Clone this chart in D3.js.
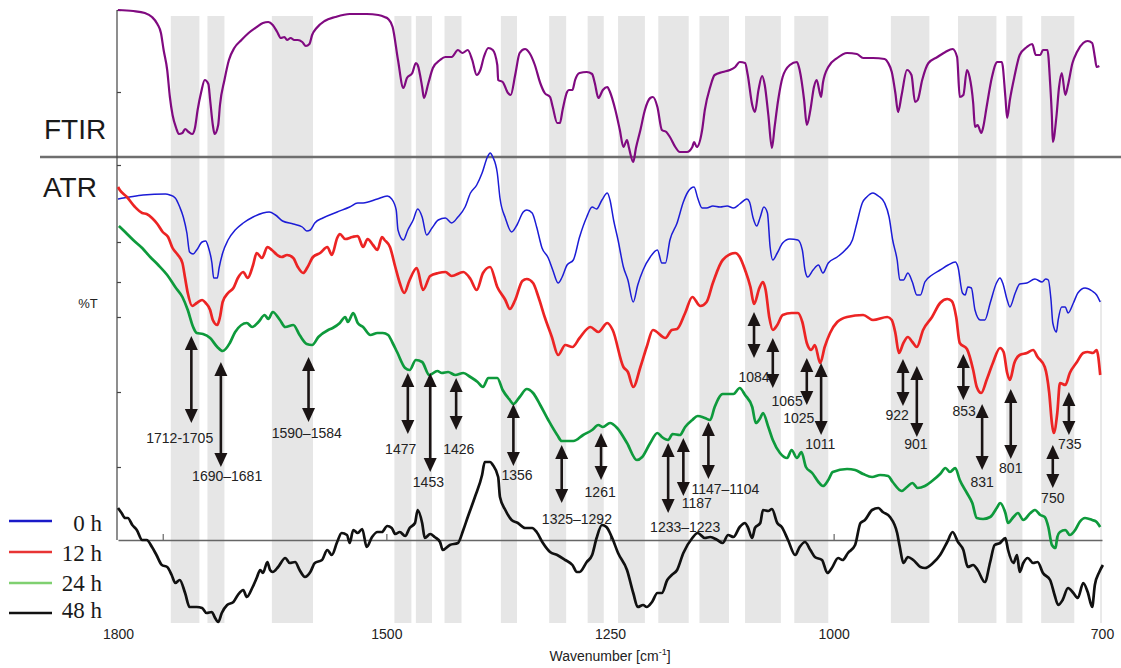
<!DOCTYPE html>
<html>
<head>
<meta charset="utf-8">
<script src="https://cdn.jsdelivr.net/npm/d3@7"></script>
<style>
  html, body { margin: 0; padding: 0; background: #fff; }
  svg { display: block; }
</style>
</head>
<body>
<svg id="chart" width="1121" height="668"></svg>
<script>
// ---- Spectra: [wavenumber (cm-1), %T] ----
const ftir = [[1800,82],[1783,81.5],[1770,80.5],[1762,78.5],[1756,75],[1752,70.5],[1749,62],[1745,52],[1742,38.5],[1739,29.5],[1735,23],[1732,20],[1728,20.5],[1725,22.5],[1721,21],[1717,20],[1714,23],[1711,32],[1707,41],[1703,47],[1699,45],[1697,37],[1694,24.5],[1692,20],[1688,24.5],[1686,34.5],[1681,47],[1676,57],[1670,63],[1662,67],[1654,70.5],[1645,73.5],[1638,75.5],[1632,76],[1627,74.5],[1622,71],[1618,68],[1614,68.5],[1611,67],[1607,68],[1603,67],[1599,67],[1594,66],[1590,64],[1586,65],[1583,69.5],[1578,73],[1569,76.5],[1557,78.5],[1541,80],[1522,80],[1509,79.5],[1502,78.5],[1498,77.5],[1493,73.5],[1487,57],[1481,43],[1477,48],[1471,50.5],[1467,55.5],[1465,54.5],[1460,43.5],[1458,38],[1453,45.5],[1448,53],[1440,57],[1434,58.5],[1427,58.5],[1420,62],[1415,60.5],[1409,62],[1404,57],[1399,49.5],[1395,52],[1391,58.5],[1386,63],[1381,62],[1376,54.5],[1375,47],[1370,46],[1364,40.5],[1361,39.5],[1356,49.5],[1351,60.5],[1345,62.5],[1340,60.5],[1334,54.5],[1328,45.5],[1323,40.5],[1317,38.5],[1314,33.5],[1309,25.5],[1306,25.5],[1303,32],[1298,41],[1296,42],[1292,42],[1289,47],[1284,50.5],[1276,51],[1270,50],[1267,45.5],[1263,38],[1258,42],[1253,43.5],[1250,41],[1244,32],[1239,22],[1235,13.5],[1231,17],[1229,13.5],[1224,6],[1221,13],[1216,22],[1211,32],[1205,38],[1202,38.5],[1197,33.5],[1192,22],[1187,21],[1183,18.5],[1177,13.5],[1172,11],[1164,11],[1158,13.5],[1156,16],[1153,13.5],[1147,22],[1144,32],[1138,43.5],[1133,49.5],[1124,51],[1116,52],[1110,53.5],[1105,56],[1099,55.5],[1096,49.5],[1091,34.5],[1088,31],[1084,42],[1080,49],[1077,44.5],[1073,29.5],[1069,13],[1066,23.5],[1062,37],[1057,48.5],[1049,54.5],[1041,56],[1038,52],[1033,37],[1030,24.5],[1026,32],[1022,43.5],[1019,47],[1014,38.5],[1012,45.5],[1006,53.5],[996,58],[985,60.5],[974,60],[967,58],[956,58],[943,57.5],[939,55.5],[935,51],[931,40.5],[928,31],[924,39.5],[918,52],[913,49.5],[909,36],[906,37],[901,47],[894,55.5],[884,58.5],[875,61],[867,62.5],[862,58.5],[859,38.5],[855,39.5],[851,52],[848,48.5],[844,35.5],[842,23.5],[839,24.5],[835,20.5],[833,23],[829,33.5],[823,48.5],[817,56],[812,56],[808,38.5],[806,28],[803,37],[798,48.5],[792,59.5],[784,63.5],[778,65],[774,59.5],[769,59.5],[766,62],[761,62],[758,45.5],[756,28.5],[755,16],[751,28.5],[748,43.5],[745,50.5],[741,39.5],[738,44.5],[733,55.5],[728,61],[721,65.5],[716,66.5],[711,65.5],[708,58.5],[706,53.5],[703,54]];

const atr0h = [[1800,68.6],[1787,69],[1772,69.4],[1747,69.6],[1742,69.4],[1736,68.8],[1731,67],[1727,65],[1723,61.8],[1720,58],[1716,57.6],[1712,58.4],[1706,60],[1702,60.2],[1699,59],[1695,55.8],[1693,52.8],[1689,52.8],[1687,54.8],[1683,57.8],[1677,60.4],[1669,62.4],[1660,63.8],[1649,65],[1638,65.8],[1631,66],[1624,65.4],[1616,64.2],[1604,63.6],[1594,63],[1589,62.2],[1585,62.4],[1580,63.8],[1571,64.8],[1555,66],[1541,67],[1532,67.8],[1526,67.8],[1510,68.6],[1499,69.2],[1494,68.6],[1489,66.4],[1487,62.4],[1481,60.4],[1476,62.4],[1470,64.4],[1465,66.6],[1460,65],[1455,61.4],[1449,62.8],[1442,64.4],[1434,64.8],[1427,63.8],[1420,65],[1412,67],[1406,69.8],[1399,71.4],[1393,73.8],[1387,77],[1384,77.8],[1381,77],[1376,73.8],[1373,68.8],[1367,64.8],[1360,62],[1354,63.4],[1347,66],[1343,66.4],[1337,65.8],[1332,63],[1326,58.8],[1319,56.8],[1314,54.4],[1308,51.8],[1304,52.8],[1298,55.4],[1291,56.4],[1284,61],[1276,65],[1270,67],[1265,66.6],[1259,68.4],[1253,69.8],[1250,68.4],[1246,64.4],[1241,60.4],[1235,55],[1230,52.4],[1224,48],[1219,51.4],[1213,54.4],[1205,57],[1197,58.4],[1192,55.8],[1188,55.8],[1183,60.4],[1175,63.8],[1168,68],[1163,70],[1156,71],[1152,68.8],[1147,66.8],[1142,66.8],[1135,67.2],[1127,67],[1119,67.2],[1112,66.8],[1105,67.6],[1097,68.6],[1094,68],[1090,64.8],[1086,63.2],[1082,65],[1078,67],[1074,65.8],[1071,59],[1068,56.4],[1063,57.8],[1057,59.8],[1049,60.6],[1040,60.4],[1035,58.4],[1032,54.4],[1029,53],[1023,54.4],[1017,55.4],[1012,53.8],[1006,55.8],[996,57],[987,58.4],[979,60.4],[974,63.8],[968,67.8],[963,69],[956,69.8],[950,69.2],[943,67.8],[938,65],[934,60.4],[929,56.4],[926,52.4],[922,52.4],[917,53.8],[912,52],[907,49.4],[903,49.4],[898,52],[890,53.4],[881,54.4],[872,55.4],[864,56],[861,55],[856,49.8],[853,49.4],[850,51],[846,50.8],[842,46.4],[836,44.4],[831,44.4],[825,47.8],[818,51.8],[814,52.8],[811,51.8],[806,48.4],[803,47],[797,49.8],[792,51.6],[784,51.8],[775,52.6],[767,52],[763,52.6],[760,52.4],[757,48.4],[755,43.8],[751,42],[749,44.4],[745,47],[741,47],[738,45.8],[732,47.8],[727,49.8],[719,50.8],[711,50.2],[706,49.4],[702,48]];

const atr12h = [[1800,71],[1798,70.4],[1790,69],[1781,67],[1773,65.8],[1768,65.6],[1762,64.8],[1756,63.6],[1750,62],[1744,61],[1739,58.8],[1733,57.4],[1728,55.8],[1725,52.8],[1722,49.8],[1717,47.2],[1712,47.8],[1706,48.4],[1702,47.8],[1697,46.4],[1694,44.4],[1689,43.4],[1686,45],[1683,48],[1677,49.8],[1671,50.8],[1666,52.8],[1660,54],[1655,52.8],[1649,55.4],[1645,57.8],[1639,56.8],[1633,59],[1628,58.4],[1622,57.4],[1617,57],[1611,57.4],[1604,56.8],[1599,55],[1593,53.8],[1588,55],[1582,57],[1574,57.8],[1566,59],[1561,57.4],[1555,60.8],[1552,61.6],[1546,60.6],[1538,61],[1532,61.2],[1526,59],[1521,60.6],[1515,59.4],[1510,58.4],[1505,61],[1502,60.4],[1496,59],[1490,55],[1485,51.8],[1480,49.8],[1474,52.4],[1466,54.8],[1459,50.4],[1451,53.2],[1442,53.8],[1434,54],[1427,53.2],[1414,54],[1406,52.6],[1399,50.4],[1392,53.8],[1384,55],[1376,51],[1367,48.4],[1362,46.6],[1356,48.4],[1348,52.2],[1343,52.6],[1336,51.8],[1330,49],[1323,45],[1315,41],[1308,37.4],[1300,39.4],[1292,39],[1284,40.8],[1272,43],[1263,42],[1253,43.8],[1247,42.4],[1235,35],[1230,34],[1224,31],[1216,35],[1209,39],[1202,42.4],[1188,40.8],[1181,42.4],[1175,42.6],[1166,45.8],[1158,49],[1149,47.2],[1142,48],[1135,51.8],[1124,56.4],[1110,57.8],[1105,57],[1099,54.4],[1093,51],[1089,47.6],[1083,50.8],[1079,52],[1076,50.4],[1072,45],[1068,42.4],[1063,43.4],[1057,45.4],[1047,45.8],[1040,45.8],[1035,44],[1030,39.8],[1025,38.4],[1021,39.4],[1015,35.8],[1010,39],[1004,41.8],[996,44],[985,45],[967,45.4],[956,44.4],[940,45],[935,44.4],[931,41.8],[927,37.8],[922,39.8],[917,41],[912,40],[907,39],[900,42.4],[890,45],[881,47.8],[873,48.6],[868,48.2],[863,45],[859,39.8],[851,38.6],[844,34.4],[840,31],[835,29.8],[829,32.4],[822,35.8],[814,38.8],[810,38],[806,33.8],[803,32.4],[798,35.8],[792,37.4],[784,37.8],[777,38.4],[772,37],[764,35],[759,29.8],[756,23.8],[754,21.8],[750,25.8],[747,31.8],[741,31.4],[736,33.8],[728,36],[721,37.8],[716,38],[710,37.8],[706,38.4],[702,33.4]];

const atr24h = [[1799,63.2],[1792,62],[1783,60.4],[1773,58.8],[1764,57],[1755,55.4],[1745,53.4],[1736,51],[1728,49],[1722,46.4],[1716,43],[1712,41.8],[1705,41.6],[1697,40.8],[1689,39],[1683,38.2],[1675,39.8],[1669,42],[1656,43.8],[1650,43],[1643,44],[1636,45.4],[1632,44.6],[1627,46],[1619,44.4],[1613,43],[1604,43.4],[1597,41.4],[1589,39.6],[1583,39.4],[1576,41],[1565,42.4],[1560,42.8],[1552,43.8],[1546,45],[1543,44],[1537,45.8],[1532,43.8],[1526,43],[1518,41.4],[1510,41.8],[1504,41.8],[1498,41.4],[1493,39.8],[1488,38],[1479,34.8],[1474,34.4],[1467,36.4],[1460,36],[1452,33.4],[1443,34.2],[1438,33.8],[1431,34],[1423,33.4],[1414,33.8],[1406,33],[1398,32],[1392,31],[1386,32.8],[1376,32.8],[1370,30.4],[1362,28.4],[1358,27.6],[1351,29],[1343,30.6],[1336,29.8],[1328,27.4],[1319,24.4],[1309,21.4],[1304,20.2],[1291,20.2],[1280,21.4],[1270,22.4],[1263,23.4],[1258,23],[1250,23.8],[1242,22.8],[1231,19.8],[1220,16.4],[1214,17],[1205,19.8],[1197,21.8],[1192,21],[1185,20.4],[1180,21.6],[1172,21.4],[1166,23],[1158,24.4],[1152,25.2],[1144,24.8],[1138,24.4],[1133,27],[1124,29.6],[1112,29.6],[1105,30.8],[1099,29.4],[1091,27],[1087,23.8],[1082,24.8],[1079,25.8],[1073,23],[1068,20.4],[1060,17.8],[1052,16.8],[1047,18.4],[1041,16.8],[1036,18],[1031,15],[1024,13.8],[1017,12],[1012,11.2],[1006,12.4],[1001,14],[985,14.6],[976,14.4],[967,13.6],[957,13],[948,13.4],[939,13.2],[934,12],[924,10.2],[918,11],[912,11.8],[906,10.8],[898,11.2],[890,12.2],[881,13.6],[875,14.8],[870,14],[864,14.8],[859,12.4],[851,9.8],[845,7.8],[840,4.8],[833,4.6],[825,5],[817,7],[814,7.8],[808,5.8],[805,3.8],[799,5],[794,5.8],[788,4.4],[780,5.8],[775,6.4],[769,5.4],[764,5],[760,3],[756,-0.6],[752,-1.2],[750,1],[747,2],[741,2.4],[736,1.4],[730,2.4],[725,4],[719,4.8],[711,4.4],[706,4],[702,3]];

const atr48h = [[1800,6.8],[1796,5.8],[1792,4.8],[1789,4.8],[1784,3.4],[1779,2.4],[1773,0.4],[1768,0.4],[1762,-1],[1757,-2.6],[1751,-4.6],[1745,-5],[1740,-6.6],[1736,-8.2],[1731,-7.6],[1725,-10.2],[1720,-13],[1712,-13],[1706,-13.2],[1701,-14.2],[1695,-14],[1692,-15],[1688,-16],[1684,-14.2],[1678,-12.6],[1671,-12],[1666,-10.6],[1660,-9.6],[1656,-11],[1650,-9.2],[1645,-7.2],[1641,-5.6],[1638,-6.2],[1633,-4],[1630,-5.6],[1627,-6],[1621,-5],[1613,-3.2],[1608,-4.2],[1602,-4],[1597,-5.6],[1591,-7],[1585,-6],[1580,-4.2],[1572,-3.6],[1566,-1.6],[1561,-2.6],[1555,0],[1550,1.8],[1544,1.4],[1541,-0.2],[1537,2.4],[1532,1.8],[1527,2.6],[1522,-1],[1516,1],[1510,2],[1505,2],[1499,3.2],[1494,2.8],[1490,1.6],[1485,2],[1479,1.2],[1474,2.8],[1468,3.8],[1465,6.4],[1460,3.8],[1457,0.8],[1451,1.6],[1446,1],[1440,0],[1437,-1.6],[1429,-0.6],[1420,-0.2],[1414,2.4],[1409,5],[1401,9],[1393,13.4],[1390,16],[1384,16],[1381,15.4],[1375,13],[1373,9],[1367,6.4],[1360,4.4],[1353,3.8],[1345,2.8],[1337,2.8],[1332,2],[1325,-0.2],[1317,-2],[1309,-2.6],[1300,-3.6],[1292,-4.6],[1287,-6],[1284,-6],[1276,-4],[1270,-2.6],[1265,0.8],[1259,3.4],[1254,3],[1248,1],[1241,-2.2],[1231,-5.6],[1224,-10.2],[1219,-13],[1213,-12.6],[1209,-13],[1203,-12],[1197,-10.2],[1192,-10.2],[1186,-7.6],[1181,-6.6],[1175,-5.6],[1168,-2.2],[1158,0.8],[1152,1.8],[1144,0.8],[1138,1],[1130,0.4],[1124,-0.2],[1118,1.4],[1112,1],[1105,3],[1099,3.8],[1096,3],[1091,0.8],[1088,2.8],[1082,3.8],[1079,6.4],[1073,6.2],[1069,6.6],[1063,3.8],[1058,3],[1051,0.4],[1043,-2.6],[1038,-1],[1032,0],[1026,-1.6],[1021,-3],[1013,-3.6],[1007,-6.2],[1002,-5.2],[995,-3.2],[990,-3.6],[984,-2.2],[976,-0.6],[970,3.8],[965,4.4],[957,6.4],[950,6.8],[945,6],[937,5],[929,1.8],[926,-1],[922,-4.2],[917,-3],[911,-3.6],[903,-5],[898,-5.2],[889,-4.2],[881,-2.6],[873,0],[867,2],[861,0],[855,-1.6],[850,-5],[844,-4.6],[839,-5.6],[831,-8],[825,-4],[820,-0.6],[814,-0.2],[808,0.8],[805,-1.6],[799,-4.2],[795,-2.6],[792,-6],[788,-4.2],[783,-3.2],[777,-4.2],[772,-4],[766,-6.2],[758,-7.6],[753,-10.6],[749,-12.6],[744,-11.6],[738,-9.2],[732,-10.2],[727,-11.2],[721,-8.2],[716,-10],[711,-13],[708,-8.6],[703,-6],[699,-4.6]];

// Highlighted absorption regions [from, to] in cm-1
const bands = [[1741,1709],[1700,1681],[1628,1582],[1491,1472],[1467,1449],[1435,1416],[1372,1354],[1318,1299],[1275,1257],[1241,1211],[1196,1162],[1150,1117],[1099,1059],[1044,1006],[936,893],[861,818],[807,789],[768,731]];

// Band assignments: arrow at w spanning top..bottom (%T), label at (lw, ly)
const peaks = [
  {label:"1712-1705", w:1718, top:41.2, bottom:23.8, lw:1731, ly:19.8},
  {label:"1690\u20131681", w:1685, top:36, bottom:15, lw:1678, ly:12.2},
  {label:"1590\u20131584", w:1587, top:37, bottom:24, lw:1589, ly:20.8},
  {label:"1477", w:1476, top:33.8, bottom:21.6, lw:1484, ly:17.6},
  {label:"1453", w:1451, top:33.8, bottom:14, lw:1453, ly:11},
  {label:"1426", w:1422, top:32.8, bottom:22.4, lw:1419, ly:17.6},
  {label:"1356", w:1358, top:27.6, bottom:15.2, lw:1354, ly:12.4},
  {label:"1325\u20131292", w:1304, top:19.4, bottom:7.8, lw:1287, ly:3.6},
  {label:"1261", w:1260, top:21.8, bottom:12.4, lw:1261, ly:9},
  {label:"1233\u20131223", w:1185, top:19.8, bottom:5.8, lw:1166, ly:2},
  {label:"1187", w:1168, top:20.8, bottom:9.2, lw:1153, ly:6.8},
  {label:"1147\u20131104", w:1140, top:24, bottom:12.6, lw:1121, ly:9.6},
  {label:"1084", w:1089, top:46, bottom:36.8, lw:1089, ly:32},
  {label:"1065", w:1068, top:40.8, bottom:30.8, lw:1052, ly:27.2},
  {label:"1025", w:1030, top:36.8, bottom:27.4, lw:1039, ly:23.8},
  {label:"1011", w:1014, top:35.8, bottom:21.4, lw:1015, ly:18.6},
  {label:"922", w:922.5, top:36.6, bottom:27.2, lw:929, ly:24.4},
  {label:"901", w:907, top:35.2, bottom:21, lw:908, ly:18.6},
  {label:"853", w:855, top:37.6, bottom:28.4, lw:854, ly:25.2},
  {label:"831", w:834, top:27.6, bottom:14.4, lw:834, ly:11},
  {label:"801", w:802, top:30.6, bottom:16.6, lw:802, ly:13.8},
  {label:"750", w:755, top:19.4, bottom:10.8, lw:755, ly:7.8},
  {label:"735", w:737, top:30, bottom:21.4, lw:736, ly:18.6}
];

const xTickLabels = [1800, 1500, 1250, 1000, 700];
const xTickMarks = [1750, 1500, 1250, 1000, 750];
const ftirTicks = [41, 82];
const atrTicks = [15, 30, 45, 52, 60, 75.4];
const legendLabels = ["0 h", "12 h", "24 h", "48 h"];
const legendColors = ["#1a1ac8", "#e83434", "#7fd070", "#111111"];

// ---- Layout ----
const layout = {
  xLeft: 118, xRight: 1102, axisX: 117, axisTop: 10, axisBase: 540,
  splitY: 157, splitX0: 40, bandTop: 16, bandBottom: 623, labelY: 626
};
const font = "'Liberation Sans', Arial, sans-serif";

const svg = d3.select("#chart");
const x = d3.scaleLinear().domain([1800, 700]).range([layout.xLeft, layout.xRight]);
const yF = d3.scaleLinear().domain([0, 100]).range([174, -26]);  // FTIR %T
const yA = d3.scaleLinear().domain([0, 100]).range([542, 42]);   // ATR %T

// shaded regions
svg.append("g").selectAll("rect").data(bands).join("rect")
  .attr("x", d => x(d[0]))
  .attr("width", d => x(d[1]) - x(d[0]))
  .attr("y", layout.bandTop)
  .attr("height", layout.bandBottom - layout.bandTop)
  .attr("fill", "#e6e6e6");

// right frame edge
svg.append("line")
  .attr("x1", layout.xRight - 1).attr("x2", layout.xRight - 1)
  .attr("y1", 300).attr("y2", layout.bandBottom)
  .attr("stroke", "#d4d4d4").attr("stroke-width", 1);

// panel divider
svg.append("line")
  .attr("x1", layout.splitX0).attr("x2", 1121)
  .attr("y1", layout.splitY).attr("y2", layout.splitY)
  .attr("stroke", "#6f6f6f").attr("stroke-width", 2.6);

// left axis
svg.append("line")
  .attr("x1", layout.axisX).attr("x2", layout.axisX)
  .attr("y1", layout.axisTop).attr("y2", layout.axisBase)
  .attr("stroke", "#444").attr("stroke-width", 1.2);

function yTicks(scale, values) {
  const g = svg.append("g").attr("transform", `translate(${layout.axisX},0)`)
    .call(d3.axisRight(scale).tickValues(values).tickSize(4).tickFormat(""));
  g.select(".domain").remove();
  g.selectAll("line").attr("stroke", "#444").attr("stroke-width", 1.2);
}
yTicks(yF, ftirTicks);
yTicks(yA, atrTicks);

// bottom baseline with upward ticks
const base = svg.append("g").attr("transform", `translate(0,${layout.axisBase})`)
  .call(d3.axisTop(x).tickValues(xTickMarks).tickSize(6).tickSizeOuter(0).tickFormat(""));
base.select(".domain").attr("stroke", "#666").attr("stroke-width", 1.3);
base.selectAll("line").attr("stroke", "#666").attr("stroke-width", 1.2);

// wavenumber labels
const lab = svg.append("g").attr("transform", `translate(0,${layout.labelY})`)
  .call(d3.axisBottom(x).tickValues(xTickLabels).tickSize(0).tickPadding(3).tickFormat(d3.format("d")));
lab.select(".domain").remove();
lab.selectAll("text").attr("font-family", font).attr("font-size", 14).attr("fill", "#222");

const xTitle = svg.append("text")
  .attr("x", x(1250)).attr("y", 661)
  .attr("text-anchor", "middle")
  .attr("font-family", font).attr("font-size", 14).attr("fill", "#222");
xTitle.append("tspan").text("Wavenumber [cm");
xTitle.append("tspan").attr("font-size", 9).attr("dy", -6).text("-1");
xTitle.append("tspan").attr("dy", 6).text("]");

// spectra
const lineF = d3.line().x(d => x(d[0])).y(d => yF(d[1])).curve(d3.curveMonotoneX);
const lineA = d3.line().x(d => x(d[0])).y(d => yA(d[1])).curve(d3.curveMonotoneX);

svg.append("path").datum(ftir).attr("d", lineF)
  .attr("fill", "none").attr("stroke", "#800a80").attr("stroke-width", 2.2)
  .attr("stroke-linejoin", "round");

const atrSeries = [
  {data: atr0h, color: "#1c1cd6", width: 1.5},
  {data: atr12h, color: "#ec2424", width: 2.7},
  {data: atr24h, color: "#0e9a3c", width: 2.7},
  {data: atr48h, color: "#111111", width: 2.7}
];
atrSeries.forEach(s => {
  svg.append("path").datum(s.data).attr("d", lineA)
    .attr("fill", "none").attr("stroke", s.color).attr("stroke-width", s.width)
    .attr("stroke-linejoin", "round");
});

// double-headed arrows with band labels
const ag = svg.append("g");
peaks.forEach(p => {
  const px = x(p.w), y1 = yA(p.top), y2 = yA(p.bottom);
  const hl = 14, hw = 6.5;
  ag.append("line").attr("x1", px).attr("x2", px)
    .attr("y1", y1 + hl - 2).attr("y2", y2 - hl + 2)
    .attr("stroke", "#1a1414").attr("stroke-width", 2.6);
  ag.append("path")
    .attr("d", `M${px},${y1}L${px - hw},${y1 + hl}L${px + hw},${y1 + hl}Z`)
    .attr("fill", "#1a1414");
  ag.append("path")
    .attr("d", `M${px},${y2}L${px - hw},${y2 - hl}L${px + hw},${y2 - hl}Z`)
    .attr("fill", "#1a1414");
  ag.append("text").attr("x", x(p.lw)).attr("y", yA(p.ly))
    .attr("text-anchor", "middle")
    .attr("font-family", font).attr("font-size", 14).attr("fill", "#222")
    .text(p.label);
});

// panel titles
svg.append("text").attr("x", 44).attr("y", 139)
  .attr("font-family", font).attr("font-size", 28).attr("fill", "#1a1a1a").text("FTIR");
svg.append("text").attr("x", 43).attr("y", 197)
  .attr("font-family", font).attr("font-size", 28).attr("fill", "#1a1a1a").text("ATR");
svg.append("text").attr("x", 88).attr("y", 308).attr("text-anchor", "middle")
  .attr("font-family", font).attr("font-size", 13).attr("fill", "#222").text("%T");

// legend
const legY = [521, 552, 583, 613];
const legTextY = [531, 561, 591, 618];
const leg = svg.append("g");
legendLabels.forEach((t, i) => {
  leg.append("line").attr("x1", 9).attr("x2", 52).attr("y1", legY[i]).attr("y2", legY[i])
    .attr("stroke", legendColors[i]).attr("stroke-width", 2.6);
  leg.append("text").attr("x", 102).attr("y", legTextY[i]).attr("text-anchor", "end")
    .attr("font-family", "'Liberation Serif', 'Times New Roman', serif")
    .attr("font-size", 23).attr("fill", "#1a1a1a").text(t);
});
</script>
</body>
</html>
